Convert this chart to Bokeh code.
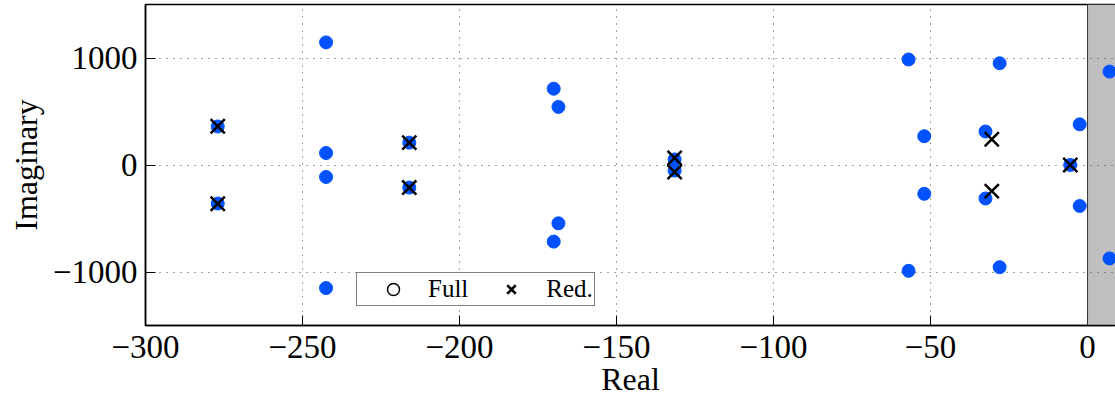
from bokeh.plotting import figure
from bokeh.models import Range1d, FixedTicker, BoxAnnotation, Span, Legend, LegendItem
from bokeh.embed import file_html
from bokeh.resources import INLINE

# ---- data ----
full_real = [-277, -277, -242.5, -242.5, -242.5, -242.5, -216, -216,
             -170, -168.5, -168.5, -170, -131.5, -131.5,
             -57, -52, -52, -57, -32.5, -32.5, -28, -28,
             -5.5, -2.5, -2.5, 7, 7]
full_imag = [360, -360, 1146, 112, -112, -1150, 209, -211,
             713, 543, -545, -716, 52, -52,
             986, 269, -269, -989, 313, -313, 951, -955,
             0, 380, -383, 873, -873]
red_real = [-277, -277, -216, -216, -131.5, -131.5, -30.5, -30.5, -5.5]
red_imag = [362, -362, 209, -211, 65, -65, 241, -244, 0]

x_ticks = [-300, -250, -200, -150, -100, -50, 0]
x_tick_labels = ["\u2212300", "\u2212250", "\u2212200", "\u2212150", "\u2212100", "\u221250", "0"]
y_ticks = [-1000, 0, 1000]
y_tick_labels = ["\u22121000", "0", "1000"]
x_limits = (-300, 8.9)
y_limits = (-1500, 1500)
unstable_from = 0
legend_labels = ["Full", "Red."]
x_label = "Real"
y_label = "Imaginary"

FONT = "Liberation Serif"

p = figure(width=1115, height=399, output_backend="svg", toolbar_location=None,
           x_range=Range1d(*x_limits), y_range=Range1d(*y_limits),
           min_border_left=145, min_border_right=0, min_border_top=4, min_border_bottom=0,
           x_axis_label=x_label, y_axis_label=y_label)
p.outline_line_color = "black"
p.outline_line_width = 1.5
p.outline_line_alpha = 1
p.background_fill_color = "white"
p.border_fill_color = "white"

bottom = p.below[0]
left = p.left[0]

for ax, ticks, labels in [(bottom, x_ticks, x_tick_labels),
                          (left, y_ticks, y_tick_labels)]:
    ax.ticker = FixedTicker(ticks=ticks)
    ax.major_label_overrides = dict(zip(ticks, labels))
    ax.major_tick_in = 10
    ax.major_tick_out = 0
    ax.major_tick_line_color = "black"
    ax.major_tick_line_width = 1
    ax.minor_tick_line_color = None
    ax.axis_line_color = "black"
    ax.axis_line_width = 1.5
    ax.major_label_text_font = FONT
    ax.major_label_text_font_size = "33px"
    ax.major_label_text_color = "black"
    ax.axis_label_text_font = FONT
    ax.axis_label_text_font_size = "32px"
    ax.axis_label_text_font_style = "normal"
    ax.axis_label_text_color = "black"

bottom.major_label_standoff = 10
bottom.axis_label_standoff = 0
left.major_label_standoff = 8
left.axis_label_standoff = 6

for g, ticks in [(p.xgrid[0], x_ticks), (p.ygrid[0], y_ticks)]:
    g.ticker = FixedTicker(ticks=ticks)
    g.grid_line_color = "#444444"
    g.grid_line_dash = "1 6"
    g.grid_line_width = 1

shade = BoxAnnotation(left=unstable_from, fill_color="#bfbfbf", fill_alpha=1,
                      line_color=None, level="image")
p.add_layout(shade)
p.add_layout(Span(location=unstable_from, dimension="height", line_color="#333333", line_width=1))

full = p.scatter(full_real, full_imag, marker="circle", size=13,
                 fill_color="#0052ff", line_color="#0052ff")
red = p.scatter(red_real, red_imag, marker="x", size=20, line_color="black", line_width=2.5)
proxy = p.scatter(full_real[:1], full_imag[:1], marker="circle", size=10, fill_color=None,
                  line_color="black", line_width=1.5, visible=False)

legend = Legend(items=[LegendItem(label=legend_labels[0], renderers=[proxy]),
                       LegendItem(label=legend_labels[1], renderers=[red])],
                location=(211, 19), orientation="horizontal",
                padding=1, spacing=8, margin=0,
                glyph_width=70, glyph_height=30, label_standoff=0,
                border_line_color="black", border_line_width=1.5,
                background_fill_color="white", background_fill_alpha=1,
                label_text_font=FONT, label_text_font_size="25px",
                label_text_color="black")
p.add_layout(legend)

open("out.html", "w").write(file_html(p, INLINE))
